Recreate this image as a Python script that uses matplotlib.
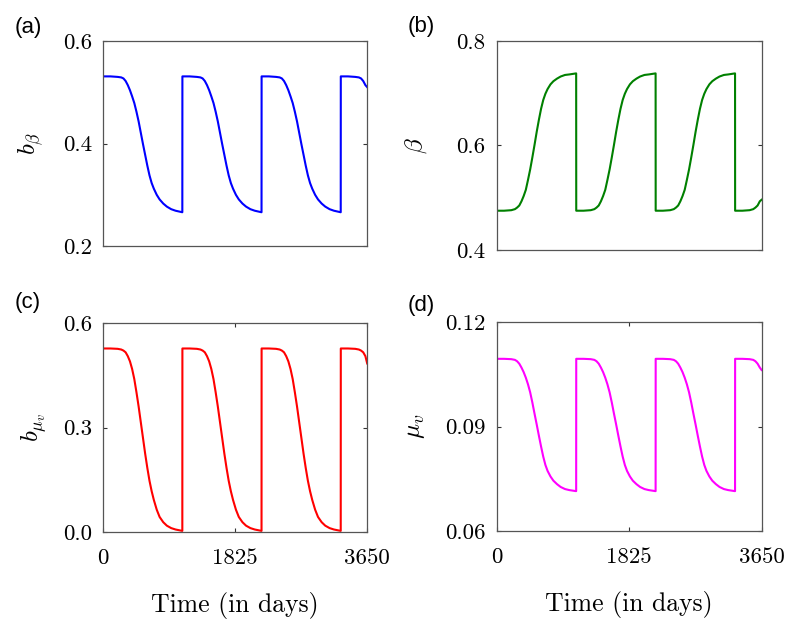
import numpy as np
import matplotlib
matplotlib.use("Agg")
import matplotlib.pyplot as plt

# one 3-year cycle (1095 days), repeated until day 3650
period = 1095
t_end = 3650
cycle_day = [0, 100, 200, 250, 280, 310, 340, 370, 400, 430, 460, 490, 520,
             550, 580, 610, 640, 670, 700, 740, 780, 830, 880, 940, 1000, 1094]

b_beta_cycle = [0.531, 0.531, 0.530, 0.529, 0.527, 0.522, 0.514, 0.504, 0.492,
                0.479, 0.462, 0.443, 0.421, 0.399, 0.378, 0.357, 0.338, 0.323,
                0.312, 0.300, 0.291, 0.283, 0.277, 0.272, 0.269, 0.266]
beta_cycle = [0.475, 0.475, 0.476, 0.478, 0.481, 0.485, 0.493, 0.503, 0.515,
              0.534, 0.554, 0.577, 0.601, 0.626, 0.649, 0.670, 0.687, 0.699,
              0.708, 0.717, 0.723, 0.728, 0.732, 0.735, 0.736, 0.738]
b_mu_cycle = [0.527, 0.527, 0.526, 0.524, 0.521, 0.516, 0.505, 0.490, 0.468,
              0.439, 0.401, 0.360, 0.315, 0.270, 0.225, 0.184, 0.147, 0.117,
              0.092, 0.064, 0.043, 0.028, 0.018, 0.011, 0.007, 0.003]
mu_v_cycle = [0.1094, 0.1094, 0.1093, 0.1091, 0.1087, 0.1080, 0.1069, 0.1056,
              0.1040, 0.1021, 0.0998, 0.0969, 0.0937, 0.0906, 0.0874, 0.0843,
              0.0814, 0.0790, 0.0773, 0.0757, 0.0745, 0.0735, 0.0727, 0.0721,
              0.0718, 0.0715]

# value at t = 3650 (right edge)
end_values = [0.510, 0.496, 0.484, 0.1062]


def series(cycle, end_val):
    t, y = [], []
    for k in range(4):
        for d, v in zip(cycle_day, cycle):
            if k * period + d < t_end:
                t.append(k * period + d)
                y.append(v)
    t.append(t_end)
    y.append(end_val)
    return np.array(t), np.array(y)


plt.rcParams['mathtext.fontset'] = 'cm'
plt.rcParams['font.family'] = 'serif'
plt.rcParams['font.serif'] = ['cmr10', 'DejaVu Serif']
plt.rcParams['axes.unicode_minus'] = False

fig = plt.figure(figsize=(8, 6.31), dpi=100)

panels = [
    # rect, data, index, colour, ylabel, yticks, letter, bottom row, ylabel x, letter y
    ([0.129, 0.610, 0.330, 0.325], b_beta_cycle, 0, '#0000ff',
     r'$b_\beta$', [0.2, 0.4, 0.6], '(a)', False, -0.22, 1.065),
    ([0.621, 0.604, 0.331, 0.331], beta_cycle, 1, '#008000',
     r'$\beta$', [0.4, 0.6, 0.8], '(b)', False, -0.257, 1.07),
    ([0.129, 0.157, 0.330, 0.331], b_mu_cycle, 2, '#ff0000',
     r'$b_{\mu_v}$', [0.0, 0.3, 0.6], '(c)', True, -0.205, 1.10),
    ([0.621, 0.158, 0.331, 0.332], mu_v_cycle, 3, '#ff00ff',
     r'$\mu_v$', [0.06, 0.09, 0.12], '(d)', True, -0.262, 1.08),
]

for rect, cyc, i, col, ylab, yt, letter, bottom, ylx, lety in panels:
    ax = fig.add_axes(rect)
    t, y = series(cyc, end_values[i])
    ax.plot(t, y, color=col, lw=1.5)
    ax.set_xlim(0, t_end)
    ax.set_ylim(yt[0], yt[-1])
    ax.set_yticks(yt)
    dec = 2 if yt[-1] < 0.2 else 1
    ax.set_yticklabels([f'{v:.{dec}f}' for v in yt], fontsize=16.5)
    for s in ax.spines.values():
        s.set_color('#555555')
        s.set_linewidth(0.9)
    ax.tick_params(direction='in', length=3, width=0.8, color='#333333',
                   left=True, right=True, pad=8)
    if bottom:
        ax.set_xticks([0, 1825, 3650])
        ax.set_xticklabels(['0', '1825', '3650'], fontsize=16.5)
        ax.tick_params(axis='x', top=True, bottom=True, pad=12)
        ax.set_xlabel('Time (in days)', fontsize=18.5, labelpad=17)
    else:
        ax.set_xticks([])
    ax.set_ylabel(ylab, fontsize=18)
    ax.yaxis.set_label_coords(ylx, 0.5)
    ax.text(-0.335, lety, letter, transform=ax.transAxes, fontsize=16,
            family='Liberation Sans', va='center', ha='left')

fig.savefig('out.png', dpi=100)
